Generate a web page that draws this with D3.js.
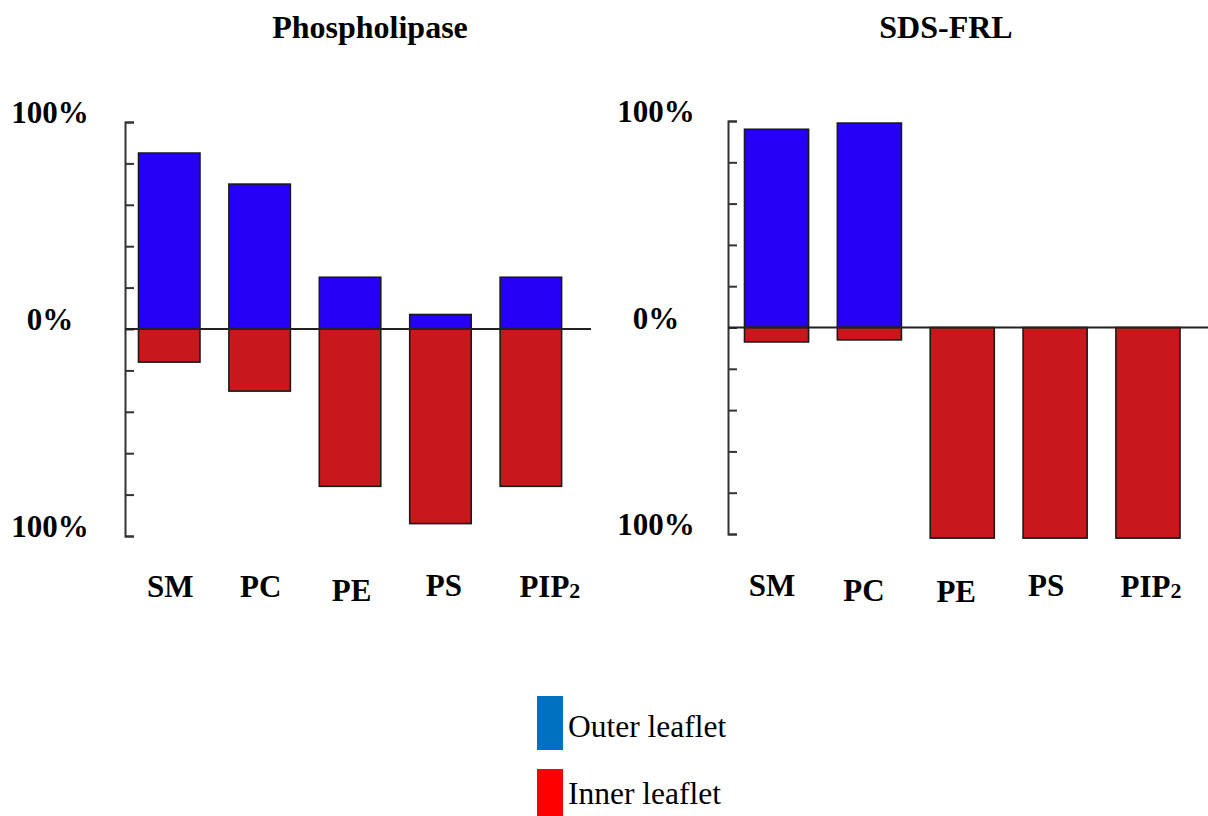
<!DOCTYPE html>
<html>
<head>
<meta charset="utf-8">
<script src="https://cdn.jsdelivr.net/npm/d3@7"></script>
<style>
  html, body { margin: 0; padding: 0; background: #fff; }
  svg { display: block; }
  text { font-family: "Liberation Serif", "Times New Roman", serif; fill: #000; }
</style>
</head>
<body>
<svg id="chart" width="1208" height="816"></svg>
<script>
// ---- data ----
const categories = ["SM", "PC", "PE", "PS", "PIP2"];
const phospholipaseOuter = [85, 70, 25, 7, 25];
const phospholipaseInner = [16, 30, 76, 94, 76];
const sdsOuter = [96, 99, 0, 0, 0];
const sdsInner = [7, 6, 102, 102, 102];
const tickValues = [-100, -80, -60, -40, -20, 0, 20, 40, 60, 80, 100];
const yLabelValues = [100, 0, -100];
const yLabelTexts = ["100%", "0%", "100%"];
const panelTitles = ["Phospholipase", "SDS-FRL"];
const legendLabels = ["Outer leaflet", "Inner leaflet"];

// ---- styles / layout ----
const barOuterColor = "#2400f6";
const barInnerColor = "#c9181c";
const legendColors = ["#0070c0", "#ff0000"];

const panels = [
  {
    title: panelTitles[0], outer: phospholipaseOuter, inner: phospholipaseInner,
    axisX: 125, top: 122, bottom: 536, bandRange: [138.5, 561.6], padding: 0.32,
    zeroEnd: 591, titleX: 370, yLabelX: 50,
    labelDx: [1, 1, 1.5, 3.5, 19], labelBase: [597, 597, 601, 596, 597]
  },
  {
    title: panelTitles[1], outer: sdsOuter, inner: sdsInner,
    axisX: 728, top: 121, bottom: 534, bandRange: [744.5, 1180], padding: 0.31,
    zeroEnd: 1208, titleX: 946, yLabelX: 656,
    labelDx: [-4.5, -5.5, -6, -9, 3], labelBase: [596, 601, 602, 596, 597]
  }
];

const svg = d3.select("#chart");

panels.forEach(p => {
  const g = svg.append("g");
  const x = d3.scaleBand().domain(categories).range(p.bandRange)
    .paddingInner(p.padding).paddingOuter(0);
  const y = d3.scaleLinear().domain([-100, 100]).range([p.bottom, p.top]);

  // title
  g.append("text").attr("x", p.titleX).attr("y", 38)
    .attr("text-anchor", "middle").attr("font-weight", "bold")
    .attr("font-size", 32).text(p.title);

  // bars: outer (up) and inner (down)
  const rows = categories.map((c, i) => ({ c, o: p.outer[i], n: p.inner[i] }));
  g.selectAll("rect.outer").data(rows.filter(d => d.o > 0)).join("rect")
    .attr("class", "outer")
    .attr("x", d => x(d.c)).attr("width", x.bandwidth())
    .attr("y", d => y(d.o)).attr("height", d => y(0) - y(d.o))
    .attr("fill", barOuterColor).attr("stroke", "#1a1a1a").attr("stroke-width", 1.6);
  g.selectAll("rect.inner").data(rows).join("rect")
    .attr("class", "inner")
    .attr("x", d => x(d.c)).attr("width", x.bandwidth())
    .attr("y", y(0)).attr("height", d => y(-d.n) - y(0))
    .attr("fill", barInnerColor).attr("stroke", "#1a1a1a").attr("stroke-width", 1.6);

  // axis with inward ticks
  const axis = d3.axisRight(y).tickValues(tickValues).tickSize(9).tickSizeOuter(9).tickFormat("");
  const ag = g.append("g").attr("transform", `translate(${p.axisX},0)`).call(axis);
  ag.selectAll("path, line").attr("stroke", "#333").attr("stroke-width", 2);

  // zero line
  g.append("line").attr("x1", p.axisX).attr("x2", p.zeroEnd)
    .attr("y1", y(0)).attr("y2", y(0)).attr("stroke", "#222").attr("stroke-width", 1.8);

  // y labels
  g.selectAll("text.ylab").data(yLabelValues).join("text")
    .attr("class", "ylab")
    .attr("x", p.yLabelX).attr("y", d => y(d) + 1)
    .attr("text-anchor", "middle").attr("font-weight", "bold").attr("font-size", 31)
    .text((d, i) => yLabelTexts[i]);

  // x labels
  categories.forEach((c, i) => {
    const t = g.append("text")
      .attr("x", x(c) + x.bandwidth() / 2 + p.labelDx[i]).attr("y", p.labelBase[i])
      .attr("text-anchor", "middle").attr("font-weight", "bold").attr("font-size", 31);
    const m = c.match(/^(.*?)(\d+)$/);
    if (m) {
      t.append("tspan").text(m[1]);
      t.append("tspan").attr("font-size", 22).attr("dy", 1).text(m[2]);
    } else {
      t.text(c);
    }
  });
});

// legend
const legendRects = [[696, 750], [769, 816]];
const legendBase = [737, 804];
legendLabels.forEach((lab, i) => {
  svg.append("rect").attr("x", 537).attr("y", legendRects[i][0])
    .attr("width", 26).attr("height", legendRects[i][1] - legendRects[i][0])
    .attr("fill", legendColors[i]);
  svg.append("text").attr("x", 568).attr("y", legendBase[i])
    .attr("font-size", 31.5).text(lab);
});
</script>
</body>
</html>
